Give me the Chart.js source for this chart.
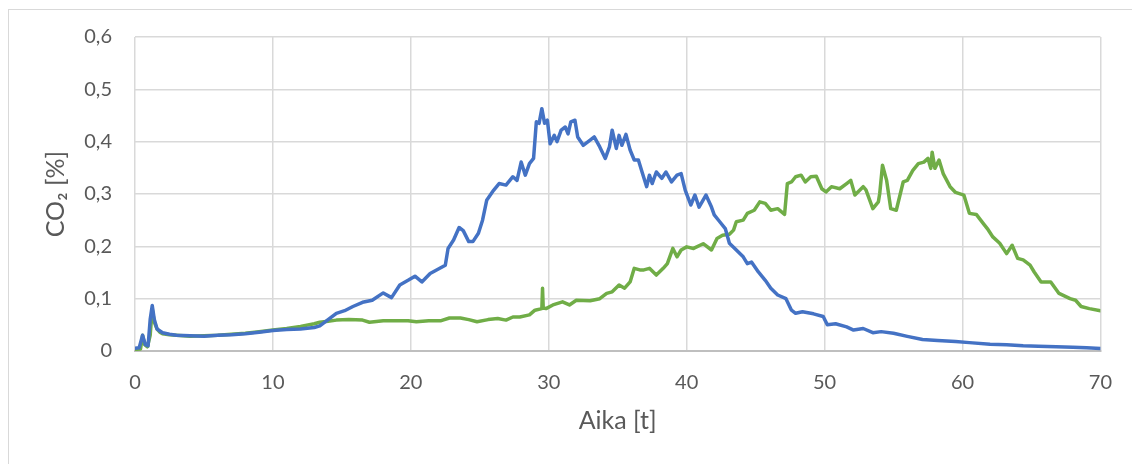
<!DOCTYPE html>
<html>
<head>
<meta charset="utf-8">
<script src="https://cdn.jsdelivr.net/npm/chart.js@4"></script>
<style>
  html, body { margin: 0; padding: 0; background: #fff; }
  #frame {
    position: absolute; left: 8px; top: 9px; width: 2000px; height: 2000px;
    border-top: 1px solid #d9d9d9; border-left: 1px solid #d9d9d9;
  }
  #wrap { position: absolute; left: 0; top: 0; width: 1132px; height: 464px; }
</style>
</head>
<body>
<div id="frame"></div>
<div id="wrap"><canvas id="chart-co2" width="1132" height="464"></canvas></div>
<script>
// Axis labels
const xTitle = 'Aika [t]'
const yTitle = 'CO\u2082 [%]'
const xTickLabels = ['0', '10', '20', '30', '40', '50', '60', '70']
const yTickLabels = ['0', '0,1', '0,2', '0,3', '0,4', '0,5', '0,6']

// Colors
const color_blue = '#4472C4'
const color_green = '#70AD47'
const color_grid = '#d9d9d9'
const color_text = '#595959'

// Blue series [time, CO2 %]
const blueSeries = [
    [0, 0.005], [0.3, 0.006], [0.55, 0.03], [0.75, 0.012], [0.95, 0.01], [1.1, 0.06], [1.25, 0.087],
    [1.4, 0.06], [1.6, 0.042], [2.0, 0.035], [2.5, 0.032], [3, 0.03], [4, 0.029], [5, 0.028],
    [6, 0.03], [7, 0.031], [8, 0.033], [9, 0.036], [10, 0.039], [11, 0.041], [12, 0.042],
    [13, 0.045], [13.4, 0.048], [14.0, 0.06], [14.6, 0.072], [15.2, 0.077], [15.8, 0.085],
    [16.5, 0.093], [17.2, 0.097], [18.0, 0.111], [18.6, 0.102], [19.2, 0.126], [19.8, 0.135],
    [20.3, 0.143], [20.8, 0.132], [21.4, 0.148], [22.1, 0.158], [22.5, 0.164], [22.7, 0.196],
    [23.1, 0.212], [23.5, 0.236], [23.8, 0.23], [24.2, 0.209], [24.5, 0.209], [24.9, 0.225],
    [25.2, 0.25], [25.5, 0.288], [26.0, 0.307], [26.4, 0.32], [26.9, 0.317], [27.4, 0.333],
    [27.7, 0.326], [28.0, 0.361], [28.3, 0.336], [28.6, 0.358], [28.9, 0.368], [29.1, 0.438],
    [29.3, 0.435], [29.5, 0.463], [29.7, 0.435], [29.9, 0.441], [30.1, 0.396], [30.4, 0.412],
    [30.6, 0.4], [30.9, 0.422], [31.2, 0.428], [31.4, 0.415], [31.6, 0.438], [31.9, 0.441],
    [32.1, 0.409], [32.5, 0.393], [33.0, 0.403], [33.3, 0.409], [33.7, 0.39], [34.1, 0.368],
    [34.4, 0.39], [34.6, 0.422], [34.9, 0.387], [35.1, 0.412], [35.3, 0.393], [35.6, 0.414],
    [35.9, 0.384], [36.2, 0.365], [36.5, 0.365], [36.8, 0.339], [37.1, 0.314], [37.3, 0.336],
    [37.5, 0.32], [37.8, 0.342], [38.2, 0.33], [38.5, 0.342], [38.9, 0.323], [39.3, 0.336],
    [39.6, 0.339], [39.9, 0.307], [40.3, 0.279], [40.6, 0.298], [40.9, 0.275], [41.4, 0.298],
    [41.8, 0.275], [42.0, 0.26], [42.4, 0.247], [42.8, 0.234], [43.1, 0.206], [43.6, 0.193],
    [44.1, 0.18], [44.4, 0.167], [44.7, 0.17], [45.2, 0.151], [45.7, 0.135], [46.1, 0.12],
    [46.6, 0.107], [47.2, 0.1], [47.6, 0.078], [47.9, 0.072], [48.4, 0.075], [49.2, 0.071],
    [49.9, 0.066], [50.2, 0.05], [50.8, 0.052], [51.6, 0.046], [52.1, 0.04], [52.8, 0.043],
    [53.5, 0.035], [54.1, 0.037], [55.0, 0.034], [56.0, 0.028], [57.1, 0.022], [58.2, 0.02],
    [59.5, 0.018], [60.5, 0.016], [62.0, 0.013], [63.2, 0.012], [64.4, 0.01], [65.5, 0.009],
    [66.8, 0.008], [68.0, 0.007], [69.0, 0.006], [70.0, 0.005]
]

// Green series [time, CO2 %]
const greenSeries = [
    [0, 0.003], [0.4, 0.004], [0.55, 0.03], [0.7, 0.012], [0.9, 0.008], [1.1, 0.03], [1.25, 0.08],
    [1.4, 0.055], [1.6, 0.042], [1.8, 0.036], [2.0, 0.033], [2.5, 0.031], [3, 0.03], [4, 0.028],
    [5, 0.029], [6, 0.03], [7, 0.032], [8, 0.034], [9, 0.037], [10, 0.04], [11, 0.043],
    [12, 0.047], [13, 0.052], [13.4, 0.055], [14.0, 0.057], [14.6, 0.059], [15.5, 0.06],
    [16.5, 0.059], [17.0, 0.055], [18.0, 0.058], [19.0, 0.058], [19.8, 0.058], [20.4, 0.056],
    [21.3, 0.058], [22.2, 0.058], [22.8, 0.063], [23.6, 0.063], [24.2, 0.06], [24.8, 0.056],
    [25.6, 0.06], [26.3, 0.062], [26.9, 0.059], [27.4, 0.065], [27.9, 0.065], [28.6, 0.069],
    [29.0, 0.078], [29.5, 0.081], [29.55, 0.12], [29.6, 0.082], [29.8, 0.081], [30.3, 0.088],
    [31.0, 0.094], [31.5, 0.088], [32.0, 0.097], [33.0, 0.096], [33.7, 0.1], [34.2, 0.11],
    [34.6, 0.113], [35.1, 0.126], [35.5, 0.12], [35.9, 0.132], [36.2, 0.158], [36.6, 0.155],
    [36.9, 0.155], [37.3, 0.158], [37.8, 0.145], [38.3, 0.158], [38.6, 0.167], [39.0, 0.196],
    [39.3, 0.18], [39.6, 0.193], [40.0, 0.199], [40.5, 0.196], [41.2, 0.205], [41.8, 0.193],
    [42.2, 0.215], [42.6, 0.221], [43.1, 0.223], [43.4, 0.231], [43.6, 0.247], [44.1, 0.25],
    [44.4, 0.263], [44.9, 0.269], [45.3, 0.285], [45.7, 0.282], [46.1, 0.269], [46.6, 0.272],
    [47.1, 0.261], [47.3, 0.32], [47.6, 0.323], [47.9, 0.333], [48.3, 0.336], [48.6, 0.323],
    [49.0, 0.333], [49.4, 0.334], [49.8, 0.31], [50.1, 0.304], [50.5, 0.314], [51.1, 0.31],
    [51.6, 0.32], [51.9, 0.326], [52.2, 0.298], [52.8, 0.314], [53.0, 0.308], [53.5, 0.272],
    [53.9, 0.285], [54.0, 0.301], [54.2, 0.355], [54.5, 0.326], [54.8, 0.272], [55.2, 0.269],
    [55.7, 0.323], [56.0, 0.326], [56.4, 0.345], [56.8, 0.358], [57.2, 0.361], [57.5, 0.368],
    [57.7, 0.349], [57.8, 0.38], [58.0, 0.349], [58.3, 0.365], [58.6, 0.339], [59.1, 0.314],
    [59.5, 0.303], [60.1, 0.298], [60.5, 0.263], [61.0, 0.261], [61.5, 0.244], [61.8, 0.234],
    [62.2, 0.218], [62.7, 0.206], [63.2, 0.186], [63.6, 0.202], [64.0, 0.177], [64.4, 0.174],
    [64.9, 0.164], [65.2, 0.151], [65.7, 0.132], [66.4, 0.132], [67.0, 0.11], [67.8, 0.1],
    [68.2, 0.097], [68.6, 0.085], [69.2, 0.081], [70.0, 0.077]
]

const toPoints = (series) => series.map(p => ({x: p[0], y: p[1]}))

const data = {
    datasets: [{
            label: 'Sarja 1',
            data: toPoints(blueSeries),
            borderColor: color_blue,
            backgroundColor: color_blue,
            borderWidth: 3.5,
            borderJoinStyle: 'round',
            borderCapStyle: 'round',
            pointRadius: 0,
            tension: 0,
        },
        {
            label: 'Sarja 2',
            data: toPoints(greenSeries),
            borderColor: color_green,
            backgroundColor: color_green,
            borderWidth: 3.5,
            borderJoinStyle: 'round',
            borderCapStyle: 'round',
            pointRadius: 0,
            tension: 0,
        },
    ]
}

const fontFamily = "Lato, 'Noto Sans', sans-serif"

const config = {
    type: 'line',
    data: data,
    options: {
        responsive: false,
        animation: false,
        layout: {
            padding: {left: 0, right: 31, top: 37, bottom: 0},
        },
        plugins: {
            legend: {display: false},
            tooltip: {enabled: false},
        },
        scales: {
            x: {
                type: 'linear',
                min: 0,
                max: 70,
                afterFit: (scale) => { scale.height = 113 },
                afterBuildTicks: (scale) => {
                    scale.ticks = xTickLabels.map(t => ({value: Number(t)}))
                },
                ticks: {
                    padding: 20,
                    color: color_text,
                    font: {family: fontFamily, size: 20},
                    maxRotation: 0,
                    callback: (value, index) => xTickLabels[index],
                },
                grid: {color: color_grid, lineWidth: 1.5, drawTicks: false},
                border: {color: '#bfbfbf', width: 2},
                title: {
                    display: true,
                    text: xTitle,
                    color: color_text,
                    font: {family: fontFamily, size: 25},
                    padding: {top: 0, bottom: 28},
                },
            },
            y: {
                min: 0,
                max: 0.6,
                afterFit: (scale) => { scale.width = 135 },
                afterBuildTicks: (scale) => {
                    scale.ticks = yTickLabels.map((t, i) => ({value: i / 10}))
                },
                ticks: {
                    padding: 23,
                    color: color_text,
                    font: {family: fontFamily, size: 20},
                    callback: (value, index) => yTickLabels[index],
                },
                grid: {color: color_grid, lineWidth: 1.5, drawTicks: false},
                border: {display: false},
                title: {
                    display: true,
                    text: yTitle,
                    color: color_text,
                    font: {family: fontFamily, size: 25},
                    padding: {top: 41, bottom: 0},
                },
            },
        },
    }
}

const context = document.getElementById('chart-co2').getContext('2d')
const chart = new Chart(context, config)
</script>
</body>
</html>
